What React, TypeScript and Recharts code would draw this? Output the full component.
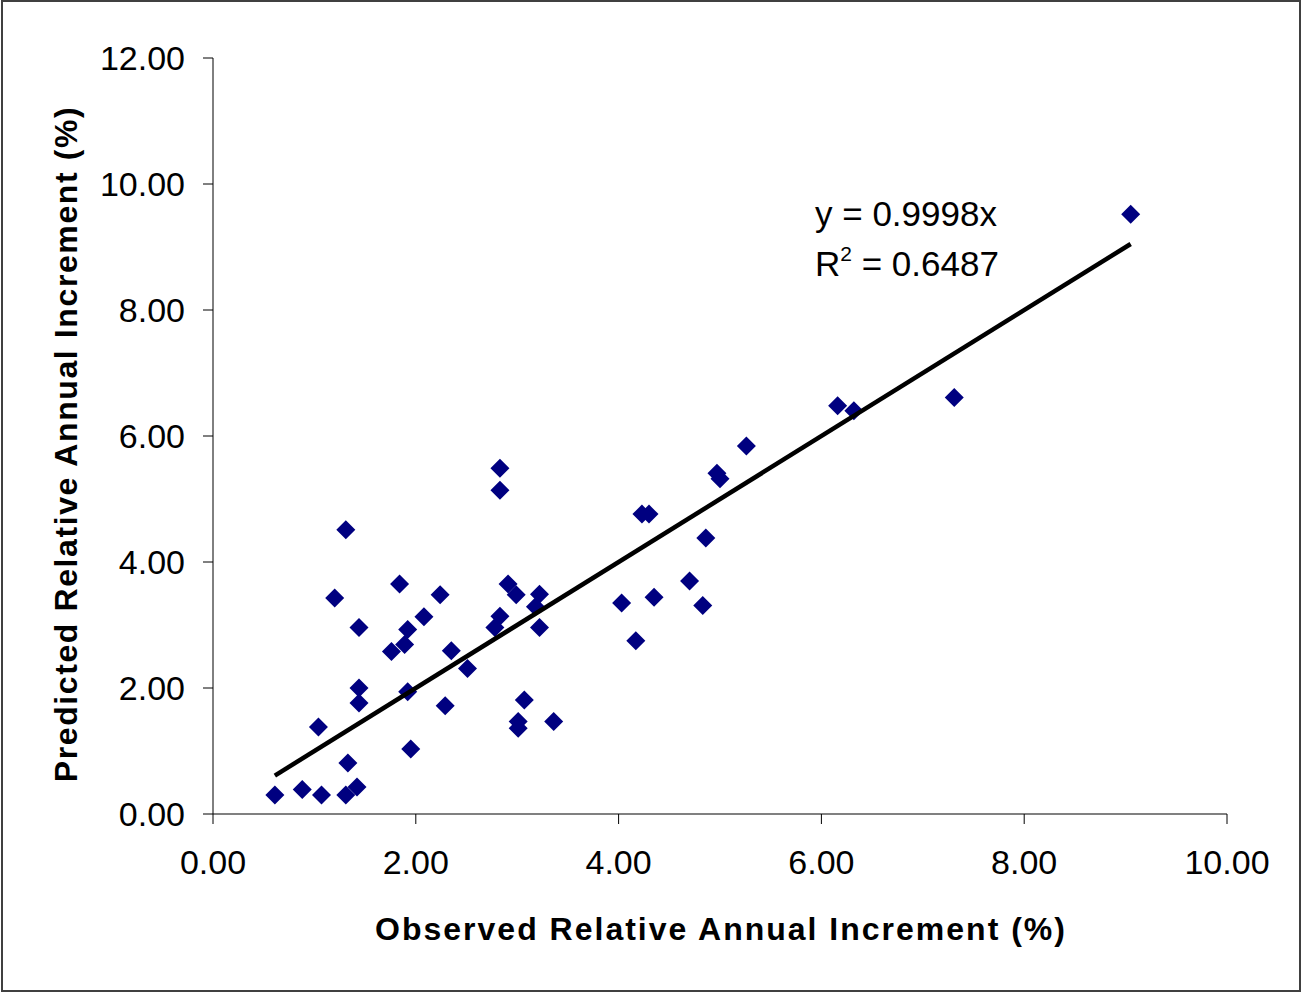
import React from "react";
import { ScatterChart, Scatter, XAxis, YAxis } from "recharts";

// observed vs predicted relative annual increment (%)
const observed = [
  0.61, 0.88, 1.07, 1.31, 1.42, 1.33, 1.04, 1.95, 1.44, 1.44, 1.92, 2.29,
  2.51, 2.35, 1.76, 1.89, 1.92, 2.08, 1.44, 1.2, 1.84, 2.24, 1.31, 2.83,
  2.83, 2.91, 2.99, 3.22, 3.18, 3.22, 2.83, 2.78, 3.07, 3.01, 3.01, 3.36,
  5.26, 4.97, 5.0, 4.23, 4.3, 4.86, 4.7, 4.35, 4.03, 4.83, 4.17, 9.05,
  6.16, 6.32, 7.31,
];
const predicted = [
  0.3, 0.39, 0.3, 0.3, 0.43, 0.81, 1.38, 1.03, 1.76, 2.0, 1.94, 1.72,
  2.31, 2.59, 2.58, 2.69, 2.93, 3.13, 2.96, 3.43, 3.65, 3.48, 4.51, 5.49,
  5.14, 3.65, 3.48, 3.49, 3.29, 2.96, 3.14, 2.96, 1.81, 1.47, 1.36, 1.47,
  5.84, 5.41, 5.32, 4.76, 4.76, 4.38, 3.7, 3.44, 3.35, 3.31, 2.75, 9.52,
  6.48, 6.4, 6.61,
];
const xTicks = [0, 2, 4, 6, 8, 10];
const yTicks = [0, 2, 4, 6, 8, 10, 12];
const slope = 0.9998;
const trendRange = [0.61, 9.05];

const points = observed.map((x, i) => ({ x, y: predicted[i] }));
const trend = trendRange.map((x) => ({ x, y: slope * x }));

const FONT = '"Liberation Sans", Arial, sans-serif';

const Diamond = (props: any) => {
  const { cx, cy } = props;
  const r = 9.5;
  return (
    <polygon
      points={`${cx},${cy - r} ${cx + r},${cy} ${cx},${cy + r} ${cx - r},${cy}`}
      fill="#000080"
    />
  );
};

const fmt = (v: number) => v.toFixed(2);

export default function App() {
  return (
    <div style={{ position: "relative", width: 1301, height: 992, fontFamily: FONT }}>
      <style>{`body { margin: 0; }`}</style>
      <ScatterChart width={1301} height={992} margin={{ top: 58, right: 74, bottom: 78, left: 0 }}>
        <XAxis
          type="number"
          dataKey="x"
          domain={[0, 10]}
          ticks={xTicks}
          tickFormatter={fmt}
          height={100}
          tickSize={10}
          tickMargin={26}
          axisLine={{ stroke: "#808080", strokeWidth: 2 }}
          tickLine={{ stroke: "#000" }}
          tick={{ fill: "#000", fontSize: 34, fontFamily: FONT }}
        />
        <YAxis
          type="number"
          dataKey="y"
          domain={[0, 12]}
          ticks={yTicks}
          tickFormatter={fmt}
          width={213}
          tickSize={10}
          tickMargin={18}
          axisLine={{ stroke: "#000" }}
          tickLine={{ stroke: "#000" }}
          tick={{ fill: "#000", fontSize: 34, fontFamily: FONT }}
        />
        <Scatter data={points} shape={<Diamond />} isAnimationActive={false} />
        <Scatter
          data={trend}
          line={{ stroke: "#000", strokeWidth: 4.5 }}
          shape={() => null}
          isAnimationActive={false}
        />
      </ScatterChart>
      <div
        style={{
          position: "absolute",
          left: 1,
          top: 0,
          width: 1300,
          height: 992,
          boxSizing: "border-box",
          border: "2px solid #404040",
          pointerEvents: "none",
        }}
      />
      <svg
        width={1301}
        height={992}
        style={{ position: "absolute", left: 0, top: 0, pointerEvents: "none" }}
      >
        <text
          x={721}
          y={940}
          textAnchor="middle"
          fontWeight="bold"
          fontSize={32}
          letterSpacing={2}
          fontFamily={FONT}
        >
          Observed Relative Annual Increment (%)
        </text>
        <text
          transform="translate(77,444) rotate(-90)"
          textAnchor="middle"
          fontWeight="bold"
          fontSize={32}
          letterSpacing={1.6}
          fontFamily={FONT}
        >
          Predicted Relative Annual Increment (%)
        </text>
        <text x={815} y={226} fontSize={35} fontFamily={FONT}>
          y = 0.9998x
        </text>
        <text x={815} y={276} fontSize={35} fontFamily={FONT}>
          R<tspan fontSize={21} dy={-15}>2</tspan>
          <tspan dy={15}> = 0.6487</tspan>
        </text>
      </svg>
    </div>
  );
}
